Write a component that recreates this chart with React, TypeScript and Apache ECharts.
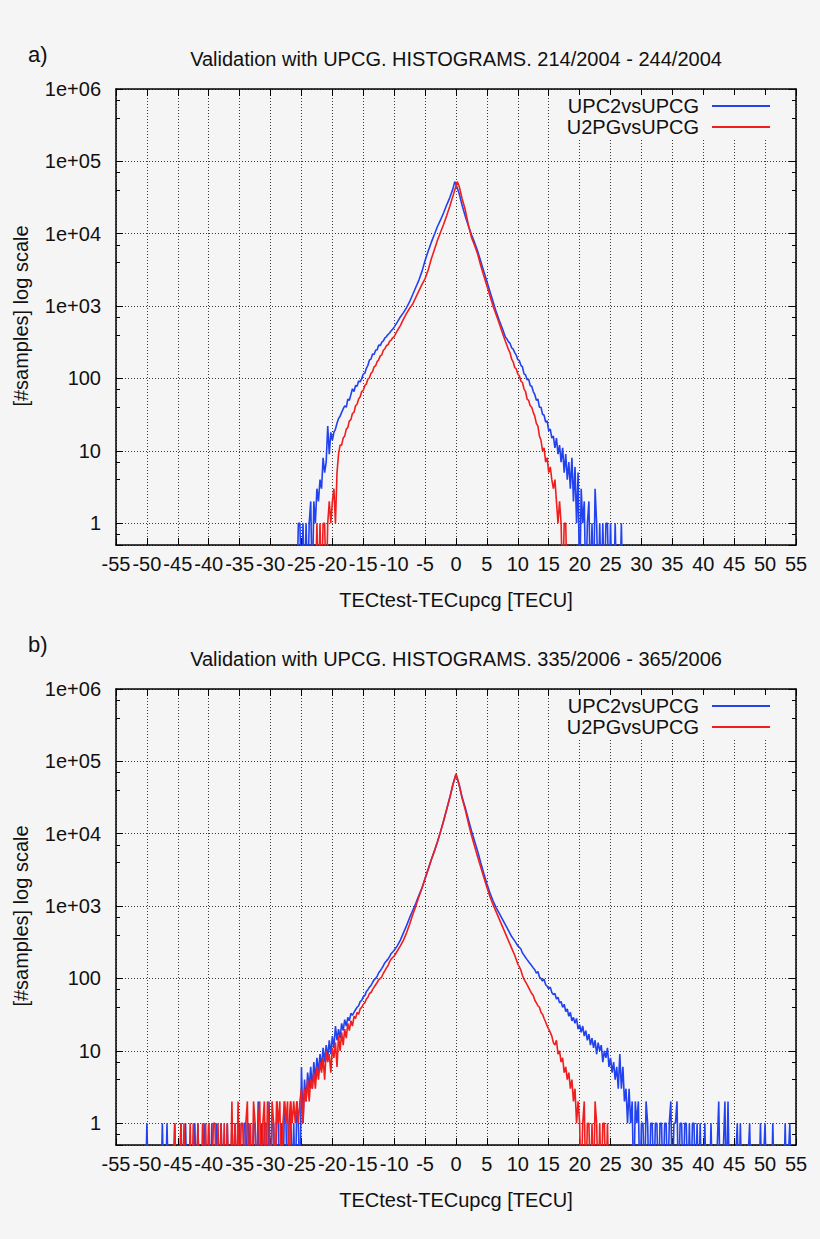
import React, { useEffect, useRef } from "react";
import * as echarts from "echarts";

// ---------------- DATA ----------------
// Each pair is [TECtest-TECupcg bin (TECU), number of samples]. A count of 0
// is an empty bin (drawn below the bottom of the log axis).

const SERIES_NAMES = ["UPC2vsUPCG", "U2PGvsUPCG"];
const X_TICKS = [-55, 55, 5]; // min, max, step
const Y_TICK_LABELS = ["1", "10", "100", "1e+03", "1e+04", "1e+05", "1e+06"];

const TITLE_A = "Validation with UPCG. HISTOGRAMS. 214/2004 - 244/2004";
const TITLE_B = "Validation with UPCG. HISTOGRAMS. 335/2006 - 365/2006";
const X_NAME = "TECtest-TECupcg [TECU]";
const Y_NAME = "[#samples] log scale";

// ---- panel a) UPC2vsUPCG (blue)
const A_BLUE_LEFT = [[-25.75,0],[-25.5,1],[-25.25,1],[-25,0],[-24.75,1],[-24.5,0],[-24.25,1],[-24,0],[-23.75,1],[-23.5,2],[-23.25,0],[-23,2],[-22.75,1],[-22.5,3],[-22.25,2],[-22,4],[-21.75,3],[-21.5,8],[-21.25,5],[-21,7],[-20.75,22],[-20.5,9],[-20.25,18],[-20,14],[-19.75,18],[-19.5,20],[-19.25,24],[-19,28],[-18.75,30],[-18.5,34],[-18.25,38],[-18,42],[-17.75,40],[-17.5,52],[-17.25,50],[-17,60],[-16.75,72],[-16.5,66],[-16.25,80],[-16,78],[-15.75,92],[-15.5,90],[-15.25,100],[-15,115],[-14.75,118],[-14.5,138],[-14.25,152],[-14,180],[-13.75,185],[-13.5,218],[-13.25,215],[-13,245],[-12.75,250],[-12.5,290],[-12.25,285],[-12,318],[-11.75,330],[-11.5,365],[-11.25,380],[-11,405],[-10.75,425],[-10.5,455],[-10.25,478]];
const A_BLUE_CORE = [[-10,513],[-9.5,600],[-9,708],[-8.5,813],[-8,955],[-7.5,1150],[-7,1445],[-6.5,1820],[-6,2290],[-5.5,3020],[-5,4270],[-4.5,5750],[-4,7590],[-3.5,9770],[-3,12600],[-2.5,15500],[-2,19500],[-1.5,25100],[-1,31600],[-0.5,41700],[-0.2,52500],[0,47900],[0.5,36300],[1,24500],[1.5,17400],[2,12900],[2.5,9770],[3,7590],[3.5,5750],[4,4170],[4.5,3020],[5,2190],[5.5,1585],[6,1150],[6.5,832],[7,631],[7.5,490],[8,372]];
const A_BLUE_RIGHT = [[8.25,350],[8.5,320],[8.75,305],[9,265],[9.25,255],[9.5,228],[9.75,210],[10,182],[10.25,176],[10.5,152],[10.75,145],[11,116],[11.25,112],[11.5,96],[11.75,98],[12,80],[12.25,78],[12.5,66],[12.75,60],[13,50],[13.25,52],[13.5,40],[13.75,40],[14,32],[14.25,31],[14.5,25],[14.75,26],[15,19],[15.25,20],[15.5,15],[15.75,16],[16,11],[16.25,15],[16.5,9],[16.75,12],[17,7],[17.25,11],[17.5,5],[17.75,9],[18,4],[18.25,7],[18.5,3],[18.75,8],[19,2],[19.25,6],[19.5,1],[19.75,5],[20,0],[20.25,3],[20.5,1],[20.75,2],[21,0],[21.25,1],[21.5,2],[21.75,0],[22,1],[22.25,0],[22.5,3],[22.75,1],[23,0],[23.25,1],[23.5,0],[23.75,1],[24,0],[24.25,1],[24.5,1],[24.75,0],[25,1],[25.25,0],[25.5,0],[25.75,1],[26,0],[26.5,0],[26.75,1],[27,0]];

// ---- panel a) U2PGvsUPCG (red)
const A_RED_LEFT = [[-22.75,0],[-22.5,1],[-22.25,0],[-22,1],[-21.75,0],[-21.5,1],[-21.25,1],[-21,0],[-20.75,1],[-20.5,2],[-20.25,1],[-20,2],[-19.75,3],[-19.5,1],[-19.25,5],[-19,9],[-18.75,12],[-18.5,12],[-18.25,15],[-18,16],[-17.75,20],[-17.5,21],[-17.25,26],[-17,27],[-16.75,33],[-16.5,34],[-16.25,42],[-16,44],[-15.75,52],[-15.5,56],[-15.25,66],[-15,68],[-14.75,80],[-14.5,84],[-14.25,98],[-14,102],[-13.75,118],[-13.5,124],[-13.25,145],[-13,150],[-12.75,172],[-12.5,182],[-12.25,205],[-12,212],[-11.75,245],[-11.5,258],[-11.25,285],[-11,292],[-10.75,325],[-10.5,338],[-10.25,365]];
const A_RED_CORE = [[-10,380],[-9.5,457],[-9,537],[-8.5,661],[-8,794],[-7.5,933],[-7,1072],[-6.5,1318],[-6,1620],[-5.5,1995],[-5,2400],[-4.5,3160],[-4,4470],[-3.5,6030],[-3,8130],[-2.5,10500],[-2,13500],[-1.5,17800],[-1,24000],[-0.5,33100],[0,45700],[0.2,52500],[0.5,45700],[1,30200],[1.5,21400],[2,13200],[2.5,8910],[3,6920],[3.5,5250],[4,3630],[4.5,2630],[5,1905],[5.5,1380],[6,1000],[6.5,759],[7,575],[7.5,427],[8,324]];
const A_RED_RIGHT = [[8.25,285],[8.5,250],[8.75,225],[9,185],[9.25,170],[9.5,142],[9.75,135],[10,115],[10.25,108],[10.5,92],[10.75,88],[11,72],[11.25,66],[11.5,52],[11.75,50],[12,42],[12.25,40],[12.5,34],[12.75,30],[13,24],[13.25,22],[13.5,16],[13.75,14],[14,10],[14.25,11],[14.5,7],[14.75,8],[15,5],[15.25,6],[15.5,4],[15.75,3],[16,4],[16.25,2],[16.5,1],[16.75,2],[17,1],[17.25,0],[17.5,1],[17.75,1],[18,0]];

// ---- panel b) UPC2vsUPCG (blue)
const B_BLUE_LEFT = [[-50.25,0],[-50,1],[-49.75,0],[-47.75,0],[-47.5,1],[-47.25,0],[-47,0],[-46.75,1],[-46.5,0],[-45.75,0],[-45.5,1],[-45.25,0],[-44.75,0],[-44.5,1],[-44.25,0],[-44,0],[-43.75,1],[-43.5,0],[-42.5,0],[-42.25,1],[-42,0],[-41.75,1],[-41.5,0],[-41,0],[-40.75,1],[-40.5,0],[-40.25,0],[-40,1],[-39.75,0],[-39.5,1],[-39.25,0],[-39,0],[-38.75,1],[-38.5,0],[-38.25,0],[-38,1],[-37.75,0],[-37.25,0],[-37,1],[-36.75,0],[-36.5,0],[-36.25,1],[-36,0],[-35.75,1],[-35.5,0],[-35.25,0],[-35,1],[-34.75,0],[-34.5,0],[-34.25,1],[-34,1],[-33.75,0],[-33.5,1],[-33.25,0],[-33,0],[-32.75,1],[-32.5,1],[-32.25,0],[-32,2],[-31.75,0],[-31.5,1],[-31.25,0],[-31,1],[-30.75,1],[-30.5,0],[-30.25,2],[-30,0],[-29.75,1],[-29.5,1],[-29.25,0],[-29,2],[-28.75,1],[-28.5,0],[-28.25,1],[-28,0],[-27.75,2],[-27.5,1],[-27.25,0],[-27,1],[-26.75,2],[-26.5,0],[-26.25,1],[-26,0],[-25.75,2],[-25.5,1],[-25.25,0],[-25,6],[-24.75,1],[-24.5,4],[-24.25,2],[-24,5],[-23.75,3],[-23.5,6],[-23.25,3],[-23,7],[-22.75,4],[-22.5,8],[-22.25,5],[-22,9],[-21.75,6],[-21.5,11],[-21.25,7],[-21,12],[-20.75,8],[-20.5,14],[-20.25,9],[-20,16],[-19.75,11],[-19.5,22],[-19.25,14],[-19,20],[-18.75,15],[-18.5,24],[-18.25,19],[-18,27],[-17.75,22],[-17.5,29],[-17.25,26],[-17,33],[-16.75,31],[-16.5,34],[-16.25,37],[-16,40],[-15.75,42],[-15.5,48],[-15.25,50],[-15,56],[-14.75,58],[-14.5,66],[-14.25,70],[-14,76],[-13.75,80],[-13.5,88],[-13.25,96],[-13,100],[-12.75,108],[-12.5,120],[-12.25,128],[-12,138],[-11.75,150],[-11.5,165],[-11.25,175],[-11,185],[-10.75,200],[-10.5,220],[-10.25,232]];
const B_BLUE_CORE = [[-10,245],[-9.5,282],[-9,339],[-8.5,427],[-8,537],[-7.5,692],[-7,871],[-6.5,1096],[-6,1410],[-5.5,1780],[-5,2400],[-4.5,3240],[-4,4370],[-3.5,5750],[-3,7760],[-2.5,10700],[-2,15100],[-1.5,21900],[-1,31600],[-0.5,47900],[0,66000],[0.5,47900],[1,31600],[1.5,22900],[2,15800],[2.5,11000],[3,7940],[3.5,5750],[4,3980],[4.5,2820],[5,2040],[5.5,1510],[6,1175],[6.5,955],[7,794],[7.5,661],[8,550],[8.5,457],[9,380],[9.5,331],[10,282]];
const B_BLUE_RIGHT = [[10.25,270],[10.5,255],[10.75,225],[11,210],[11.25,195],[11.5,182],[11.75,170],[12,160],[12.25,150],[12.5,140],[12.75,132],[13,118],[13.25,125],[13.5,105],[13.75,100],[14,92],[14.25,98],[14.5,82],[14.75,78],[15,72],[15.25,76],[15.5,64],[15.75,60],[16,62],[16.25,52],[16.5,55],[16.75,46],[17,48],[17.25,40],[17.5,44],[17.75,35],[18,38],[18.25,30],[18.5,34],[18.75,26],[19,29],[19.25,24],[19.5,28],[19.75,20],[20,23],[20.25,18],[20.5,22],[20.75,16],[21,19],[21.25,14],[21.5,17],[21.75,12],[22,15],[22.25,11],[22.5,14],[22.75,9],[23,13],[23.25,10],[23.5,12],[23.75,7],[24,10],[24.25,8],[24.5,11],[24.75,6],[25,8],[25.25,5],[25.5,7],[25.75,4],[26,6],[26.25,3],[26.5,9],[26.75,3],[27,6],[27.25,2],[27.5,3],[27.75,1],[28,3],[28.25,1],[28.5,2],[28.75,0],[29,2],[29.25,1],[29.5,2],[29.75,0],[30,1],[30.25,1],[30.5,0],[30.75,2],[31,1],[31.25,0],[31.5,1],[31.75,1],[32,0],[32.25,1],[32.5,1],[32.75,0],[33,1],[33.25,1],[33.5,0],[33.75,1],[34,1],[34.25,0],[34.5,1],[34.75,2],[35,0],[35.25,1],[35.5,1],[35.75,2],[36,0],[36.25,1],[36.5,1],[36.75,0],[37,1],[37.25,1],[37.5,0],[37.75,1],[38,0],[38.25,1],[38.5,1],[38.75,0],[39,1],[39.25,0],[39.5,1],[39.75,0],[40,0],[40.25,1],[40.5,0],[41,0],[41.25,1],[41.5,0],[42,0],[42.5,2],[42.75,0],[43,0],[43.5,2],[43.75,0],[44,2],[44.25,0],[45,0],[45.5,1],[45.75,0],[46,1],[46.25,0],[47,0],[47.5,1],[47.75,0],[49,0],[49.25,1],[49.5,0],[50,1],[50.25,0],[51,0],[51.25,1],[51.5,0],[53,0],[53.25,1],[53.5,0],[54,1],[54.25,0]];

// ---- panel b) U2PGvsUPCG (red)
const B_RED_LEFT = [[-45.75,0],[-45.5,1],[-45.25,0],[-44.75,0],[-44.5,1],[-44.25,0],[-44,1],[-43.75,0],[-43.25,0],[-43,1],[-42.75,0],[-42.5,1],[-42.25,0],[-42,0],[-41.75,1],[-41.5,0],[-41.25,0],[-41,1],[-40.75,0],[-40.5,1],[-40.25,0],[-40,1],[-39.75,0],[-39.5,0],[-39.25,1],[-39,1],[-38.75,0],[-38.5,1],[-38.25,0],[-38,1],[-37.75,0],[-37.5,1],[-37.25,0],[-37,1],[-36.75,0],[-36.5,0],[-36.25,2],[-36,0],[-35.75,1],[-35.5,0],[-35.25,2],[-35,0],[-34.75,1],[-34.5,1],[-34.25,0],[-34,1],[-33.75,2],[-33.5,0],[-33.25,1],[-33,0],[-32.75,2],[-32.5,1],[-32.25,0],[-32,1],[-31.75,2],[-31.5,0],[-31.25,1],[-31,2],[-30.75,0],[-30.5,2],[-30.25,1],[-30,0],[-29.75,2],[-29.5,1],[-29.25,0],[-29,2],[-28.75,1],[-28.5,2],[-28.25,0],[-28,1],[-27.75,2],[-27.5,1],[-27.25,2],[-27,0],[-26.75,2],[-26.5,1],[-26.25,2],[-26,1],[-25.75,2],[-25.5,1],[-25.25,2],[-25,3],[-24.75,1],[-24.5,3],[-24.25,2],[-24,4],[-23.75,2],[-23.5,4],[-23.25,3],[-23,5],[-22.75,3],[-22.5,6],[-22.25,4],[-22,7],[-21.75,5],[-21.5,8],[-21.25,4],[-21,10],[-20.75,7],[-20.5,9],[-20.25,5],[-20,11],[-19.75,8],[-19.5,13],[-19.25,6],[-19,16],[-18.75,10],[-18.5,18],[-18.25,12],[-18,20],[-17.75,15],[-17.5,24],[-17.25,19],[-17,26],[-16.75,22],[-16.5,30],[-16.25,28],[-16,34],[-15.75,32],[-15.5,38],[-15.25,40],[-15,44],[-14.75,46],[-14.5,52],[-14.25,55],[-14,62],[-13.75,64],[-13.5,70],[-13.25,76],[-13,82],[-12.75,88],[-12.5,96],[-12.25,100],[-12,106],[-11.75,118],[-11.5,128],[-11.25,140],[-11,150],[-10.75,170],[-10.5,185],[-10.25,195]];
const B_RED_CORE = [[-10,204],[-9.5,240],[-9,282],[-8.5,339],[-8,427],[-7.5,562],[-7,759],[-6.5,1000],[-6,1350],[-5.5,1780],[-5,2400],[-4.5,3240],[-4,4370],[-3.5,5750],[-3,7760],[-2.5,10700],[-2,15100],[-1.5,21900],[-1,31600],[-0.5,47900],[0,67600],[0.5,47900],[1,30900],[1.5,21400],[2,14100],[2.5,9550],[3,6760],[3.5,4790],[4,3470],[4.5,2510],[5,1820],[5.5,1350],[6,1047],[6.5,832],[7,661],[7.5,525],[8,417],[8.5,331],[9,263],[9.5,209],[10,158]];
const B_RED_RIGHT = [[10.25,145],[10.5,130],[10.75,110],[11,98],[11.25,90],[11.5,82],[11.75,75],[12,68],[12.25,62],[12.5,58],[12.75,50],[13,46],[13.25,42],[13.5,40],[13.75,34],[14,32],[14.25,28],[14.5,25],[14.75,22],[15,20],[15.25,18],[15.5,16],[15.75,13],[16,12],[16.25,14],[16.5,9],[16.75,10],[17,7],[17.25,8],[17.5,5],[17.75,6],[18,4],[18.25,5],[18.5,3],[18.75,4],[19,2],[19.25,3],[19.5,1],[19.75,2],[20,1],[20.25,0],[20.5,1],[20.75,2],[21,0],[21.25,1],[21.5,1],[21.75,0],[22,1],[22.25,0],[22.5,2],[22.75,1],[23,0],[23.25,1],[23.5,0],[23.75,1],[24,1],[24.25,0],[24.5,1],[24.75,0]];

// ---------------- STYLE / LAYOUT ----------------
const BG = "#f5f5f5";
const FONT = "'Liberation Sans', Arial, Helvetica, sans-serif";
const BLUE = "#2242f0";
const RED = "#f01e1e";
const TEXT = "#111";
const Y_MIN = 0.5;
const Y_MAX = 1e6;
const EMPTY_BIN_DRAWN_AT = 0.1; // below the axis minimum -> clipped

const buildSeries = (...parts: number[][][]) =>
  parts
    .flat()
    .map(([x, c]) => [x, c > 0 ? c : EMPTY_BIN_DRAWN_AT])
    .sort((p, q) => p[0] - q[0]);

const PANELS = [
  {
    letter: "a)",
    title: TITLE_A,
    top: 89,
    letterY: 54,
    titleY: 59,
    blue: buildSeries(A_BLUE_LEFT, A_BLUE_CORE, A_BLUE_RIGHT),
    red: buildSeries(A_RED_LEFT, A_RED_CORE, A_RED_RIGHT),
  },
  {
    letter: "b)",
    title: TITLE_B,
    top: 689,
    letterY: 644,
    titleY: 659,
    blue: buildSeries(B_BLUE_LEFT, B_BLUE_CORE, B_BLUE_RIGHT),
    red: buildSeries(B_RED_LEFT, B_RED_CORE, B_RED_RIGHT),
  },
];

const GRID_LEFT = 116;
const GRID_WIDTH = 680;
const GRID_HEIGHT = 456;

function buildOption() {
  const axisLine = { show: true, onZero: false, lineStyle: { color: "#000", width: 1.5 } };
  const gridLine = { show: true, lineStyle: { color: "#3a3a3a", width: 1, type: [1, 2] } };
  const labelStyle = { fontSize: 20, color: TEXT, fontFamily: FONT };

  const grid: any[] = [];
  const xAxis: any[] = [];
  const yAxis: any[] = [];
  const series: any[] = [];
  const legend: any[] = [];
  const graphic: any[] = [];

  PANELS.forEach((p, i) => {
    grid.push({ left: GRID_LEFT, top: p.top, width: GRID_WIDTH, height: GRID_HEIGHT, show: false });

    const xBase = {
      type: "value",
      gridIndex: i,
      min: X_TICKS[0],
      max: X_TICKS[1],
      interval: X_TICKS[2],
      axisLine,
      axisTick: { show: true, inside: true, length: 7, lineStyle: { color: "#000", width: 1 } },
    };
    xAxis.push({
      ...xBase,
      position: "bottom",
      axisLabel: { ...labelStyle, margin: 9, hideOverlap: false },
      splitLine: gridLine,
    });
    xAxis.push({ ...xBase, position: "top", axisLabel: { show: false }, splitLine: { show: false } });

    const yBase = {
      type: "log",
      logBase: 10,
      gridIndex: i,
      min: Y_MIN,
      max: Y_MAX,
      axisLine,
      axisTick: { show: true, inside: true, length: 7, lineStyle: { color: "#000", width: 1 } },
      minorTick: { show: true, splitNumber: 3, length: 4, lineStyle: { color: "#000", width: 1 } },
    };
    yAxis.push({
      ...yBase,
      position: "left",
      axisLabel: {
        ...labelStyle,
        margin: 15,
        showMinLabel: false,
        formatter: (v: number) => {
          const e = Math.log10(v);
          const r = Math.round(e);
          if (Math.abs(e - r) > 1e-6 || r < 0) return "";
          return Y_TICK_LABELS[r] ?? "";
        },
      },
      splitLine: gridLine,
    });
    yAxis.push({ ...yBase, position: "right", axisLabel: { show: false }, splitLine: { show: false } });

    const common = {
      type: "line",
      xAxisIndex: i * 2,
      yAxisIndex: i * 2,
      showSymbol: false,
      symbol: "none",
      clip: true,
      silent: true,
    };
    series.push({
      ...common,
      name: SERIES_NAMES[0],
      data: p.blue,
      lineStyle: { color: BLUE, width: 1.6 },
      itemStyle: { color: BLUE },
      z: 2,
    });
    series.push({
      ...common,
      name: SERIES_NAMES[1],
      data: p.red,
      lineStyle: { color: RED, width: 1.6 },
      itemStyle: { color: RED },
      z: 3,
    });

    legend.push({
      data: SERIES_NAMES,
      orient: "vertical",
      align: "right",
      right: 30,
      top: p.top + 6,
      padding: [1, 20, 3, 8],
      backgroundColor: BG,
      icon: "rect",
      itemWidth: 58,
      itemHeight: 2,
      itemGap: 1,
      selectedMode: false,
      textStyle: { ...labelStyle, padding: [0, 8, 0, 0] },
    });

    graphic.push(
      {
        type: "text",
        x: 28,
        y: p.letterY,
        style: { text: p.letter, font: `22px ${FONT}`, fill: TEXT, align: "left", verticalAlign: "middle" },
      },
      {
        type: "text",
        x: 456,
        y: p.titleY,
        style: { text: p.title, font: `20px ${FONT}`, fill: TEXT, align: "center", verticalAlign: "middle" },
      },
      {
        type: "text",
        x: 456,
        y: p.top + 511,
        style: { text: X_NAME, font: `20px ${FONT}`, fill: TEXT, align: "center", verticalAlign: "middle" },
      },
      {
        type: "text",
        x: 21,
        y: p.top + 227,
        rotation: Math.PI / 2,
        style: { text: Y_NAME, font: `20px ${FONT}`, fill: TEXT, align: "center", verticalAlign: "middle" },
      }
    );
  });

  return {
    animation: false,
    backgroundColor: BG,
    grid,
    xAxis,
    yAxis,
    series,
    legend,
    graphic,
  };
}

export default function App() {
  const ref = useRef<HTMLDivElement>(null);
  useEffect(() => {
    document.body.style.margin = "0";
    document.body.style.background = BG;
    const chart = echarts.init(ref.current as HTMLDivElement, null, { renderer: "svg" });
    chart.setOption(buildOption() as any);
    return () => chart.dispose();
  }, []);
  return <div ref={ref} style={{ width: 820, height: 1239 }} />;
}
